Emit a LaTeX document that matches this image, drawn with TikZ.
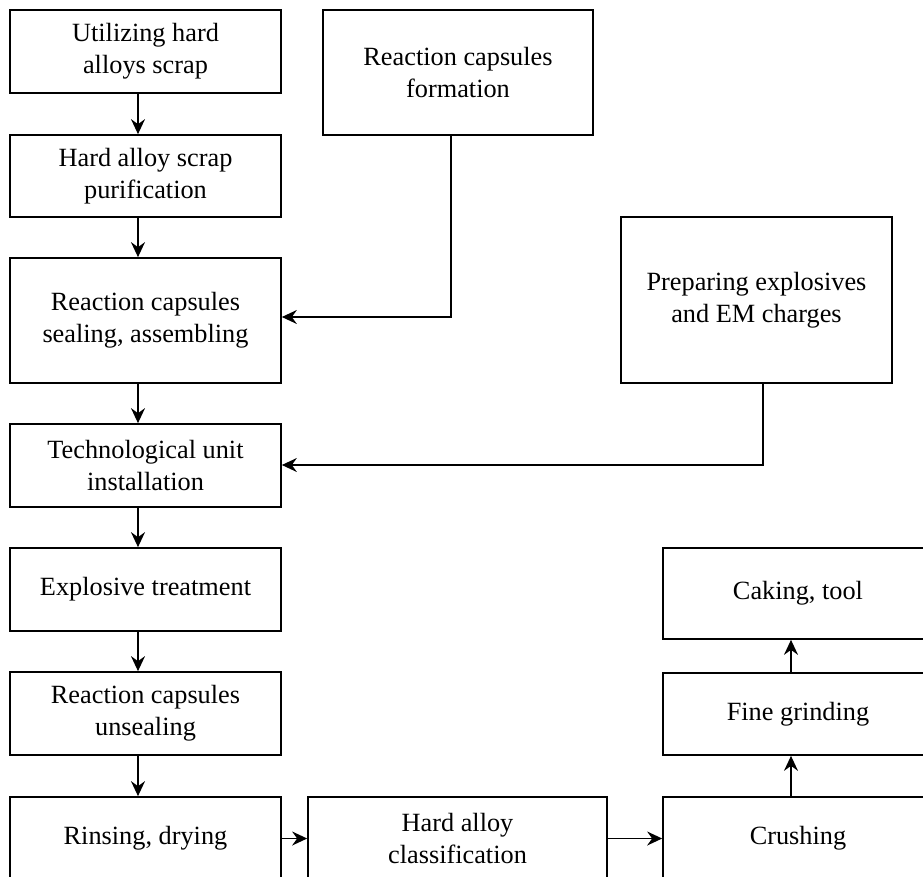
\documentclass[tikz,border=0pt]{standalone}
\usepackage{fontspec}
\setmainfont{Liberation Serif}
\usetikzlibrary{arrows.meta}
\tikzset{
	stage/.style={draw,rectangle,line width=1.7pt,inner sep=0pt,align=center,font=\fontsize{26.3}{31.6}\selectfont},%
	leftstage/.style={stage,minimum width=271pt,minimum height=83pt},%
	rightstage/.style={stage,minimum width=270pt,minimum height=83pt},%
	flow/.style={line width=1.6pt,-{Stealth[length=15pt,width=14pt,inset=5pt]}},%
	feed/.style={flow,line width=1.3pt},%
}
\def\colx{138}
\def\upx{791}

\begin{document}
\begin{tikzpicture}[%
		x=1pt,y=-1pt,%
		]
		\useasboundingbox (0,0) rectangle (923,876);
		\clip (0,0) rectangle (923,876);
		% main column
		\node[leftstage] (scrap) at (145.5,51.5) {Utilizing hard\\alloys scrap};
		\node[leftstage,minimum height=82pt] (purify) at (145.5,176) {Hard alloy scrap\\purification};
		\node[leftstage,minimum height=125pt] (seal) at (145.5,320.5) {Reaction capsules\\sealing, assembling};
		\node[leftstage] (install) at (145.5,465.5) {Technological unit\\installation};
		\node[leftstage] (blast) at (145.5,589.5) {Explosive treatment};
		\node[leftstage] (unseal) at (145.5,713.5) {Reaction capsules\\unsealing};
		\node[leftstage] (rinse) at (145.5,838.5) {Rinsing, drying};
		% side inputs
		\node[stage,minimum width=270pt,minimum height=125pt] (form) at (458,72.5) {Reaction capsules\\formation};
		\node[stage,minimum width=271pt,minimum height=166pt] (charge) at (756.5,300) {Preparing explosives\\and EM charges};
		% bottom row and right column
		\node[stage,minimum width=299pt,minimum height=83pt] (classify) at (457.5,838.5) {Hard alloy\\classification};
		\node[rightstage] (crush) at (798,838.5) {Crushing};
		\node[rightstage,minimum height=82pt] (grind) at (798,714) {Fine grinding};
		\node[rightstage,minimum height=91pt] (cake) at (798,593.5) {Caking, tool};
		\coordinate (col) at (\colx,0);
		\coordinate (up) at (\upx,0);
		\coordinate (formbend) at (451,317);
		\coordinate (chargebend) at (763,465);
		\draw[flow] (scrap.south -| col) -- (purify.north -| col);
		\draw[flow] (purify.south -| col) -- (seal.north -| col);
		\draw[flow] (seal.south -| col) -- (install.north -| col);
		\draw[flow] (install.south -| col) -- (blast.north -| col);
		\draw[flow] (blast.south -| col) -- (unseal.north -| col);
		\draw[flow] (unseal.south -| col) -- (rinse.north -| col);
		\draw[feed] (form.south -| formbend) |- (seal.east |- formbend);
		\draw[feed] (charge.south -| chargebend) |- (install.east |- chargebend);
		\draw[flow] (rinse.east) -- (classify.west);
		\draw[flow] (classify.east) -- (crush.west);
		\draw[flow] (crush.north -| up) -- (grind.south -| up);
		\draw[flow] (grind.north -| up) -- (cake.south -| up);
	\end{tikzpicture}
\end{document}
